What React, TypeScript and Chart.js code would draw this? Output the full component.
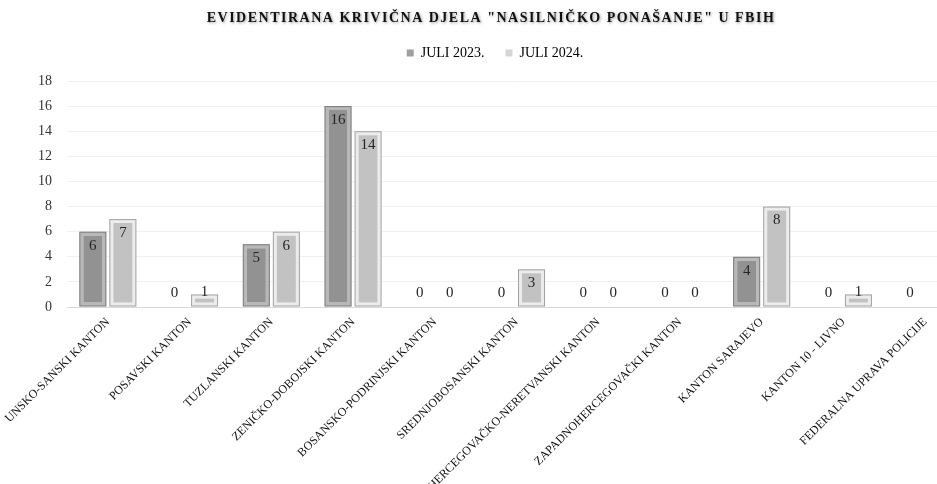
import React, { useEffect, useRef } from "react";
import { Chart, registerables } from "chart.js";

Chart.register(...registerables);

const titleText = 'EVIDENTIRANA KRIVIČNA DJELA "NASILNIČKO PONAŠANJE" U FBIH';
const categories = [
  "UNSKO-SANSKI KANTON",
  "POSAVSKI KANTON",
  "TUZLANSKI KANTON",
  "ZENIČKO-DOBOJSKI KANTON",
  "BOSANSKO-PODRINJSKI KANTON",
  "SREDNJOBOSANSKI KANTON",
  "HERCEGOVAČKO-NERETVANSKI KANTON",
  "ZAPADNOHERCEGOVAČKI KANTON",
  "KANTON SARAJEVO",
  "KANTON 10 - LIVNO",
  "FEDERALNA UPRAVA POLICIJE",
];
const seriesLabels = ["JULI 2023.", "JULI 2024."];
const juli2023 = [6, 0, 5, 16, 0, 0, 0, 0, 4, 0, 0];
const juli2024 = [7, 1, 6, 14, 0, 3, 0, 0, 8, 1, 0];
const yMin = 0;
const yMax = 18;
const yStep = 2;

const fillColors = ["#929292", "#c2c2c2"];
const bandColors = ["#b8b8b8", "#ececec"];
const outerColors = ["#7c7c7c", "#a2a2a2"];
const legendColors = ["#a0a0a0", "#d4d4d4"];

const SERIF = '"Liberation Serif", "DejaVu Serif", serif';

const bevelPlugin = {
  id: "bevel",
  afterDatasetsDraw(chart: any) {
    const ctx = chart.ctx;
    chart.data.datasets.forEach((ds: any, i: number) => {
      const meta = chart.getDatasetMeta(i);
      meta.data.forEach((bar: any, j: number) => {
        const v = ds.data[j];
        if (!v) return;
        const { x, y, base, width } = bar.getProps(["x", "y", "base", "width"], true);
        const left = x - width / 2;
        ctx.save();
        ctx.strokeStyle = outerColors[i];
        ctx.lineWidth = 1;
        ctx.strokeRect(left + 0.5, y + 0.5, width - 1, base - y - 1);
        ctx.restore();
      });
    });
  },
};

const labelPlugin = {
  id: "valueLabels",
  afterDatasetsDraw(chart: any) {
    const ctx = chart.ctx;
    ctx.save();
    ctx.font = `15px ${SERIF}`;
    ctx.fillStyle = "#262626";
    ctx.textAlign = "center";
    ctx.textBaseline = "middle";
    chart.data.datasets.forEach((ds: any, i: number) => {
      const meta = chart.getDatasetMeta(i);
      meta.data.forEach((bar: any, j: number) => {
        const v = ds.data[j];
        const { x, y, base } = bar.getProps(["x", "y", "base"], true);
        const ly = Math.min(y + 14, base - 14);
        ctx.fillText(String(v), x, ly);
      });
    });
    ctx.restore();
  },
};

const titlePlugin = {
  id: "spacedTitle",
  afterDraw(chart: any) {
    const ctx = chart.ctx;
    ctx.save();
    (ctx as any).letterSpacing = "1.5px";
    ctx.font = `bold 14px ${SERIF}`;
    ctx.fillStyle = "#111111";
    ctx.textAlign = "center";
    ctx.textBaseline = "middle";
    ctx.shadowColor = "rgba(0,0,0,0.4)";
    ctx.shadowBlur = 3;
    ctx.shadowOffsetX = 1;
    ctx.shadowOffsetY = 1;
    ctx.fillText(titleText, 491, 18);
    ctx.restore();
  },
};

export default function App() {
  const ref = useRef<HTMLCanvasElement | null>(null);

  useEffect(() => {
    if (!ref.current) return;
    const chart = new Chart(ref.current, {
      type: "bar",
      data: {
        labels: categories,
        datasets: [
          {
            label: seriesLabels[0],
            data: juli2023,
            backgroundColor: fillColors[0],
            borderColor: bandColors[0],
            borderWidth: 4,
            borderSkipped: false,
            barPercentage: 0.9,
            categoryPercentage: 0.735,
          },
          {
            label: seriesLabels[1],
            data: juli2024,
            backgroundColor: fillColors[1],
            borderColor: bandColors[1],
            borderWidth: 4,
            borderSkipped: false,
            barPercentage: 0.9,
            categoryPercentage: 0.735,
          },
        ],
      },
      options: {
        responsive: false,
        animation: false,
        devicePixelRatio: 1,
        layout: { padding: { left: 24, right: 34, top: 25, bottom: 0 } },
        plugins: {
          title: { display: false },
          subtitle: {
            display: true,
            text: "",
            position: "top",
            weight: 500,
            padding: 0,
            font: { size: 10, lineHeight: 1.1 },
          },
          tooltip: { enabled: false },
          legend: {
            display: true,
            position: "top",
            labels: {
              boxWidth: 7,
              boxHeight: 7,
              padding: 21,
              color: "#1a1a1a",
              font: { family: SERIF, size: 14 },
              generateLabels: () =>
                seriesLabels.map((t, i) => ({
                  text: t,
                  fillStyle: legendColors[i],
                  strokeStyle: legendColors[i],
                  lineWidth: 0,
                  hidden: false,
                  datasetIndex: i,
                })),
            },
          },
        },
        scales: {
          x: {
            grid: { display: false },
            border: { display: true, color: "#d9d9d9" },
            ticks: {
              autoSkip: false,
              minRotation: 45,
              maxRotation: 45,
              padding: 0,
              color: "#111111",
              font: { family: SERIF, size: 12 },
            },
            afterFit: (s: any) => {
              s.height = 177;
            },
          },
          y: {
            min: yMin,
            max: yMax,
            ticks: {
              stepSize: yStep,
              padding: 15,
              color: "#333333",
              font: { family: SERIF, size: 14 },
            },
            grid: { color: "#f0f0f0", drawTicks: false },
            border: { display: false },
            afterFit: (s: any) => {
              s.width = 43;
            },
          },
        },
      },
      plugins: [bevelPlugin, labelPlugin, titlePlugin],
    });
    return () => chart.destroy();
  }, []);

  return (
    <div
      style={{
        position: "absolute",
        left: 0,
        top: 0,
        width: 937,
        height: 484,
        overflow: "hidden",
        background: "#ffffff",
      }}
    >
      <canvas ref={ref} width={1000} height={484} style={{ display: "block" }} />
    </div>
  );
}
